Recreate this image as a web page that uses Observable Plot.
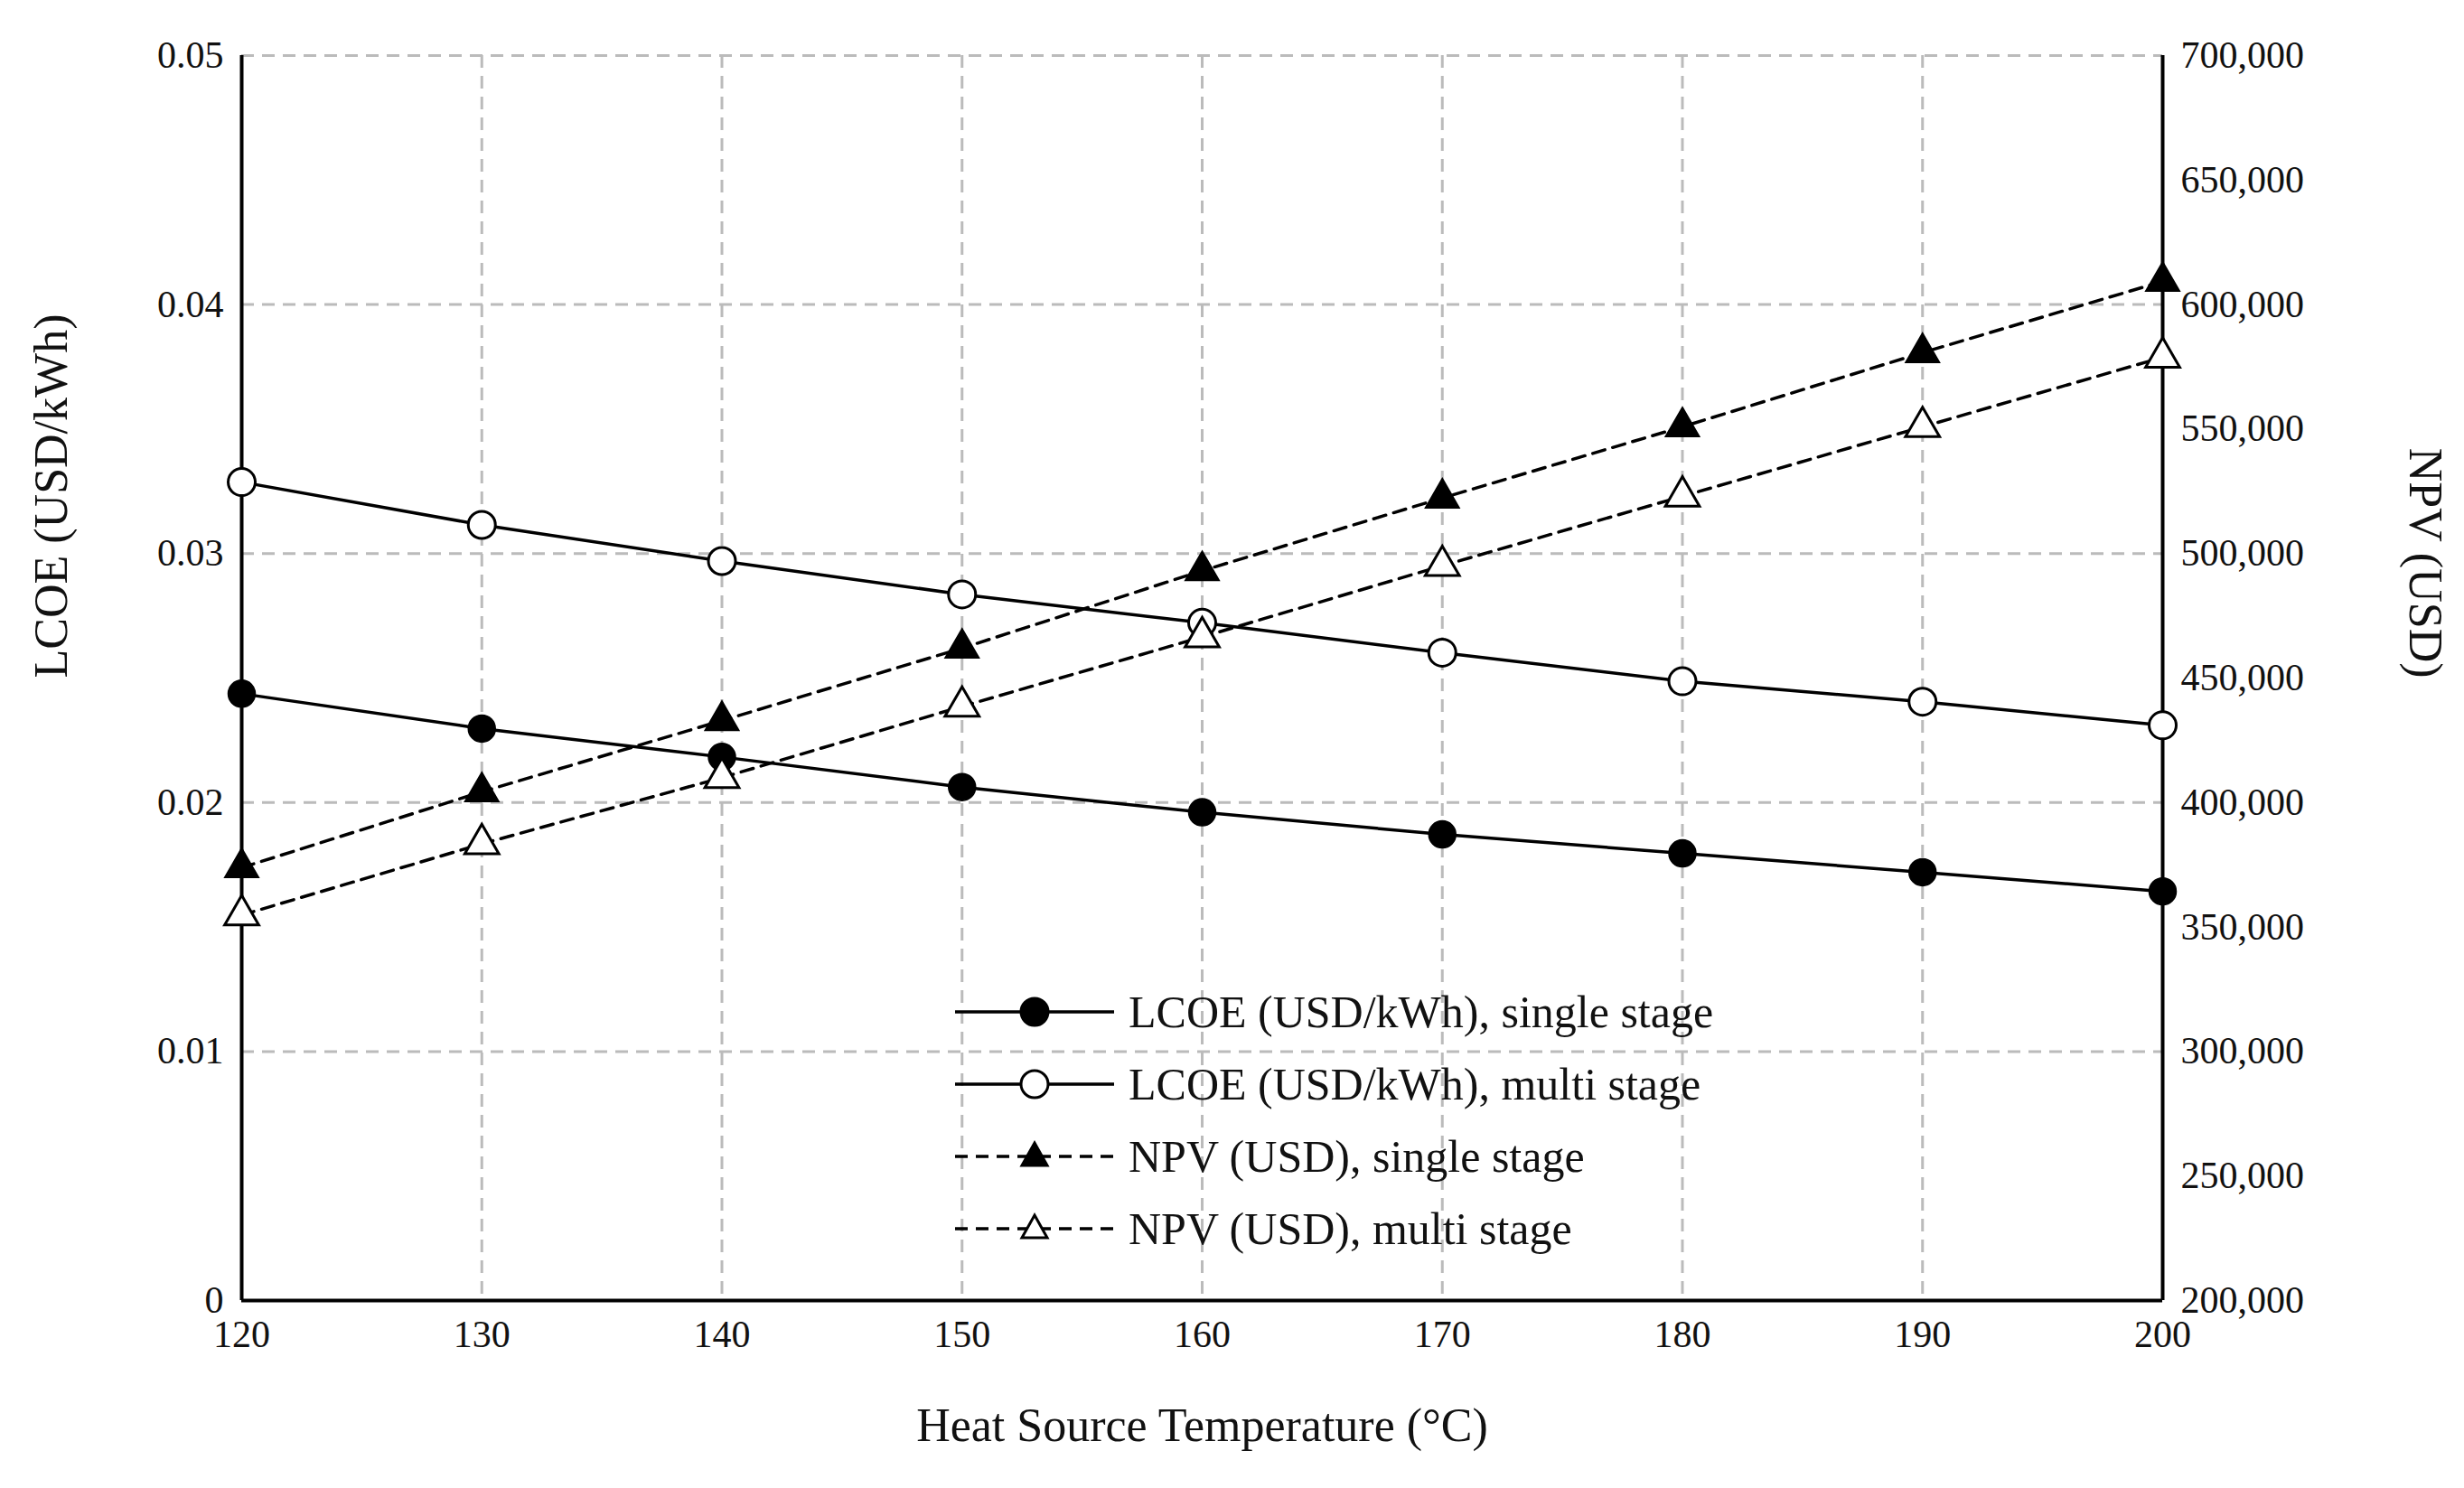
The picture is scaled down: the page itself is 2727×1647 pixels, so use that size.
<!DOCTYPE html>
<html><head><meta charset="utf-8">
<script src="https://cdn.jsdelivr.net/npm/d3@7"></script>
<script src="https://cdn.jsdelivr.net/npm/@observablehq/plot@0.6"></script>
<style>
body{margin:0;background:#fff;font-family:"Liberation Serif",serif;}
#wrap{position:relative;width:2727px;height:1647px;}
#legend{position:absolute;left:1055px;top:1080px;font-size:50px;color:#111;line-height:80px;}
#legend div{display:flex;align-items:center;}
#legend svg{margin-right:14px;}
</style></head><body>
<div id="wrap"><div id="chart"></div>
<div id="legend"></div></div>
<script>
const temps=[120,130,140,150,160,170,180,190,200];
const lcoeSingle=[0.02437,0.02297,0.02183,0.02062,0.01961,0.01872,0.01796,0.0172,0.01643];
const lcoeMulti=[0.03287,0.03115,0.0297,0.02836,0.02722,0.02602,0.02487,0.02405,0.0231];
const npvSingle=[373850,404300,432900,462000,493100,522300,550900,580700,609300];
const npvMulti=[354800,383400,410000,438600,466500,495100,523000,550900,578800];
const rightTicks=[200000,250000,300000,350000,400000,450000,500000,550000,600000,650000,700000];
const leftTicks=[0,0.01,0.02,0.03,0.04,0.05];
const toL=v=>(v-200000)/500000*0.05;
const fromL=l=>l/0.05*500000+200000;
const rows=(ys,f=d=>d)=>temps.map((t,i)=>({t,y:f(ys[i])}));
const ls=rows(lcoeSingle),lm=rows(lcoeMulti),ns=rows(npvSingle,toL),nm=rows(npvMulti,toL);
const W=3.5;
const chart=Plot.plot({
 width:2727,height:1647,marginLeft:267,marginRight:334,marginTop:61,marginBottom:208,
 style:{fontFamily:"Liberation Serif, serif",fontSize:"42px",color:"#111",background:"#fff",overflow:"visible"},
 x:{domain:[120,200]},y:{domain:[0,0.05]},
 marks:[
  Plot.gridX(temps,{stroke:"#bbb",strokeOpacity:1,strokeWidth:3,strokeDasharray:"14,9"}),
  Plot.gridY(leftTicks,{stroke:"#bbb",strokeOpacity:1,strokeWidth:3,strokeDasharray:"14,9"}),
  Plot.axisX(temps,{tickSize:0,tickPadding:22,fontSize:42,label:null}),
  Plot.axisY(leftTicks,{tickSize:0,tickPadding:20,fontSize:42,tickFormat:d=>d===0?"0":d3.format(".2f")(d),label:null}),
  Plot.axisY(rightTicks.map(toL),{anchor:"right",tickSize:0,tickPadding:20,fontSize:42,tickFormat:d=>d3.format(",")(Math.round(fromL(d))),label:null}),
  Plot.text(["Heat Source Temperature (°C)"],{frameAnchor:"bottom",dy:155,fontSize:52,fill:"#111"}),
  Plot.text(["LCOE (USD/kWh)"],{frameAnchor:"left",dx:-210,rotate:-90,fontSize:52,fill:"#111"}),
  Plot.text(["NPV (USD)"],{frameAnchor:"right",dx:290,rotate:90,fontSize:52,fill:"#111"}),
  Plot.ruleX([120,200],{stroke:"#000",strokeWidth:4}),
  Plot.ruleY([0],{stroke:"#000",strokeWidth:4}),
  Plot.line(ls,{x:"t",y:"y",stroke:"#000",strokeWidth:W}),
  Plot.line(lm,{x:"t",y:"y",stroke:"#000",strokeWidth:W}),
  Plot.line(ns,{x:"t",y:"y",stroke:"#000",strokeWidth:W,strokeDasharray:"14,9"}),
  Plot.line(nm,{x:"t",y:"y",stroke:"#000",strokeWidth:W,strokeDasharray:"14,9"}),
  Plot.dot(ls,{x:"t",y:"y",r:15,fill:"#000",stroke:"#000"}),
  Plot.dot(lm,{x:"t",y:"y",r:15,fill:"#fff",stroke:"#000",strokeWidth:3}),
  Plot.dot(ns,{x:"t",y:"y",r:14,symbol:"triangle",fill:"#000",stroke:"#000"}),
  Plot.dot(nm,{x:"t",y:"y",r:14,symbol:"triangle",fill:"#fff",stroke:"#000",strokeWidth:3})
 ]});
document.getElementById("chart").appendChild(chart);
const items=[["LCOE (USD/kWh), single stage","c","#000",""],["LCOE (USD/kWh), multi stage","c","#fff",""],["NPV (USD), single stage","t","#000","14,9"],["NPV (USD), multi stage","t","#fff","14,9"]];
document.getElementById("legend").innerHTML=items.map(([l,s,f,d])=>`<div><svg width="180" height="40"><line x1="2" x2="178" y1="20" y2="20" stroke="#000" stroke-width="3.5" stroke-dasharray="${d}"/>${s==="c"?`<circle cx="90" cy="20" r="15" fill="${f}" stroke="#000" stroke-width="3"/>`:`<path d="M90,5 L104,30 L76,30Z" fill="${f}" stroke="#000" stroke-width="3"/>`}</svg>${l}</div>`).join("");
</script></body></html>
